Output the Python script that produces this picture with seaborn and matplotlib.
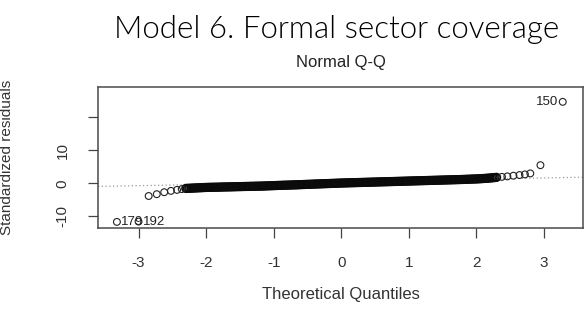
import numpy as np
import pandas as pd
import matplotlib
matplotlib.use("Agg")
import matplotlib.pyplot as plt
import seaborn as sns

# ---- data ----
# lower tail (theoretical quantile, standardized residual)
low_q = [-3.32, -3.00, -2.85, -2.73, -2.62, -2.52, -2.43, -2.36]
low_r = [-11.7, -11.6, -3.85, -3.3, -2.7, -2.3, -2.0, -1.75]

# dense central band
band_q = [
    -2.300, -2.275, -2.250, -2.225, -2.200, -2.175, -2.150, -2.125, -2.100, -2.075,
    -2.050, -2.025, -2.000, -1.975, -1.950, -1.925, -1.900, -1.875, -1.850, -1.825,
    -1.800, -1.775, -1.750, -1.725, -1.700, -1.675, -1.650, -1.625, -1.600, -1.575,
    -1.550, -1.525, -1.500, -1.475, -1.450, -1.425, -1.400, -1.375, -1.350, -1.325,
    -1.300, -1.275, -1.250, -1.225, -1.200, -1.175, -1.150, -1.125, -1.100, -1.075,
    -1.050, -1.025, -1.000, -0.975, -0.950, -0.925, -0.900, -0.875, -0.850, -0.825,
    -0.800, -0.775, -0.750, -0.725, -0.700, -0.675, -0.650, -0.625, -0.600, -0.575,
    -0.550, -0.525, -0.500, -0.475, -0.450, -0.425, -0.400, -0.375, -0.350, -0.325,
    -0.300, -0.275, -0.250, -0.225, -0.200, -0.175, -0.150, -0.125, -0.100, -0.075,
    -0.050, -0.025, 0.000, 0.025, 0.050, 0.075, 0.100, 0.125, 0.150, 0.175,
    0.200, 0.225, 0.250, 0.275, 0.300, 0.325, 0.350, 0.375, 0.400, 0.425,
    0.450, 0.475, 0.500, 0.525, 0.550, 0.575, 0.600, 0.625, 0.650, 0.675,
    0.700, 0.725, 0.750, 0.775, 0.800, 0.825, 0.850, 0.875, 0.900, 0.925,
    0.950, 0.975, 1.000, 1.025, 1.050, 1.075, 1.100, 1.125, 1.150, 1.175,
    1.200, 1.225, 1.250, 1.275, 1.300, 1.325, 1.350, 1.375, 1.400, 1.425,
    1.450, 1.475, 1.500, 1.525, 1.550, 1.575, 1.600, 1.625, 1.650, 1.675,
    1.700, 1.725, 1.750, 1.775, 1.800, 1.825, 1.850, 1.875, 1.900, 1.925,
    1.950, 1.975, 2.000, 2.025, 2.050, 2.075, 2.100, 2.125, 2.150, 2.175,
    2.200, 2.225, 2.250, 2.275, 2.300,
]
band_r = [
    -1.55, -1.53, -1.50, -1.48, -1.45, -1.43, -1.40, -1.38, -1.35, -1.33,
    -1.30, -1.28, -1.25, -1.24, -1.22, -1.21, -1.20, -1.19, -1.18, -1.17,
    -1.15, -1.14, -1.12, -1.11, -1.10, -1.09, -1.08, -1.07, -1.05, -1.04,
    -1.02, -1.01, -1.00, -0.99, -0.97, -0.96, -0.95, -0.94, -0.92, -0.91,
    -0.90, -0.89, -0.87, -0.86, -0.85, -0.84, -0.82, -0.80, -0.78, -0.76,
    -0.74, -0.72, -0.70, -0.68, -0.66, -0.64, -0.62, -0.60, -0.58, -0.57,
    -0.55, -0.54, -0.52, -0.50, -0.48, -0.47, -0.45, -0.43, -0.40, -0.38,
    -0.36, -0.34, -0.32, -0.30, -0.28, -0.26, -0.24, -0.22, -0.20, -0.18,
    -0.16, -0.14, -0.12, -0.10, -0.08, -0.06, -0.04, -0.02, 0.00, 0.02,
    0.04, 0.06, 0.08, 0.10, 0.11, 0.13, 0.14, 0.16, 0.17, 0.19,
    0.20, 0.22, 0.23, 0.25, 0.26, 0.28, 0.29, 0.31, 0.32, 0.34,
    0.35, 0.37, 0.38, 0.40, 0.41, 0.43, 0.44, 0.46, 0.47, 0.49,
    0.50, 0.52, 0.53, 0.55, 0.56, 0.58, 0.59, 0.61, 0.62, 0.64,
    0.65, 0.67, 0.68, 0.70, 0.71, 0.73, 0.74, 0.76, 0.77, 0.79,
    0.80, 0.82, 0.83, 0.85, 0.86, 0.88, 0.89, 0.91, 0.92, 0.94,
    0.95, 0.97, 0.98, 1.00, 1.01, 1.03, 1.04, 1.06, 1.07, 1.09,
    1.10, 1.12, 1.13, 1.15, 1.17, 1.19, 1.21, 1.23, 1.25, 1.27,
    1.29, 1.31, 1.33, 1.35, 1.38, 1.41, 1.45, 1.48, 1.52, 1.56,
    1.60, 1.65, 1.70, 1.75, 1.80,
]

# upper tail
high_q = [2.38, 2.46, 2.55, 2.64, 2.72, 2.80, 2.95, 3.28]
high_r = [1.95, 2.1, 2.3, 2.5, 2.7, 3.0, 5.5, 24.7]

# labelled extreme observations
outlier_labels = ["179", "192", "150"]
outlier_q = [-3.32, -3.00, 3.28]
outlier_r = [-11.7, -11.6, 24.7]

qqline_intercept = 0.45
qqline_slope = 0.39

x_ticks = [-3, -2, -1, 0, 1, 2, 3]
y_ticks = [-10, 0, 10, 20]
y_ticklabels = ["-10", "0", "10", ""]

tails = pd.DataFrame({"q": low_q + high_q, "r": low_r + high_r})
band = pd.DataFrame({"q": band_q, "r": band_r})

sns.set_style("white")
plt.rcParams["font.family"] = ["Liberation Sans", "DejaVu Sans"]

fig = plt.figure(figsize=(5.84, 3.16), dpi=100)
ax = fig.add_axes([98 / 584, 1 - 227.5 / 316, (583 - 98) / 584, (227.5 - 87) / 316])

ax.axline((0, qqline_intercept), slope=qqline_slope, color="#9a9a9a",
          linestyle=(0, (1, 2)), linewidth=0.9, zorder=1)

sns.scatterplot(data=band, x="q", y="r", ax=ax, marker="o", s=30,
                facecolor="none", edgecolor="#0a0a0a", linewidth=1.2, zorder=3)
sns.scatterplot(data=tails, x="q", y="r", ax=ax, marker="o", s=24,
                facecolor="none", edgecolor="#222222", linewidth=0.8, zorder=3)

for lab, qx, ry in zip(outlier_labels, outlier_q, outlier_r):
    if qx < 0:
        ax.annotate(lab, (qx, ry), xytext=(3, 0), textcoords="offset points",
                    ha="left", va="center", fontsize=9.5, color="#222222")
    else:
        ax.annotate(lab, (qx, ry), xytext=(-3.5, 0), textcoords="offset points",
                    ha="right", va="center", fontsize=9.5, color="#222222")

ax.set_xlim(-3.6, 3.58)
ax.set_ylim(-13.4, 29.2)
ax.set_xticks(x_ticks)
ax.set_xticklabels([str(t) if t >= 0 else "-" + str(-t) for t in x_ticks])
ax.set_yticks(y_ticks)
ax.set_yticklabels(y_ticklabels, rotation=90, va="center")
ax.tick_params(axis="both", direction="out", length=7.5, width=0.9, color="#444444",
               labelsize=11, labelcolor="#333333", pad=13)
ax.tick_params(axis="x", bottom=True)
ax.tick_params(axis="y", left=True)
for sp in ax.spines.values():
    sp.set_visible(True)
    sp.set_color("#4a4a4a")
    sp.set_linewidth(1.1)

ax.set_xlabel("Theoretical Quantiles", fontsize=12, color="#333333", labelpad=12)
ax.set_ylabel("")
fig.text(7 / 584, 1 - 157 / 316, "Standardized residuals", rotation=90,
         ha="center", va="center", fontsize=11, color="#333333")
fig.text(340.5 / 584, 1 - 63 / 316, "Normal Q-Q", ha="center", va="center",
         fontsize=12, color="#222222")

fig.text(337 / 584, 1 - 30 / 316, "Model 6. Formal sector coverage",
         ha="center", va="center", fontsize=22.5, fontweight=300,
         family=["Lato", "DejaVu Sans"], color="#000000")

fig.savefig("out.png", dpi=100, facecolor="white")
